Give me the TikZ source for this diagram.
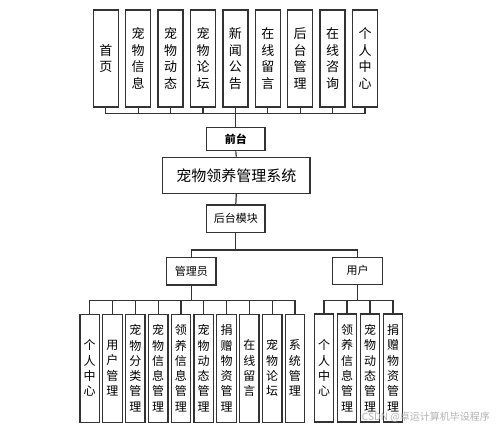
\documentclass[tikz,border=0pt]{standalone}
\usepackage{fontspec}
\setmainfont{Noto Sans CJK SC}
\begin{document}
\begin{tikzpicture}[x=1pt,y=-1pt,
    box/.style={draw=black!80,line width=1.3pt,inner sep=0pt,align=center},
    topbox/.style={box,minimum width=25pt,minimum height=97pt,font=\fontsize{13}{16.7}\selectfont},
    lowbox/.style={box,minimum width=19.5pt,minimum height=108pt,font=\fontsize{12}{15.3}\selectfont},
    midbox/.style={box,font=\fontsize{11}{13}\selectfont},
    link/.style={draw=black!80,line width=1.2pt}]
        \useasboundingbox (0,0) rectangle (499,428);
        % front end
        \foreach \lbl [count=\i] in {首\\页,宠\\物\\信\\息,宠\\物\\动\\态,宠\\物\\论\\坛,新\\闻\\公\\告,在\\线\\留\\言,后\\台\\管\\理,在\\线\\咨\\询,个\\人\\中\\心}
            \node[topbox] (t\i) at ({105.8+32.4*(\i-1)},58.5) {\lbl};
        \node[midbox,minimum width=58.3pt,minimum height=23pt,font=\fontsize{11}{13}\selectfont\bfseries] (qt) at (235.8,139.2) {前台};
        \node[box,minimum width=147.3pt,minimum height=36pt,font=\fontsize{15}{18}\selectfont] (sys) at (236.3,175.3) {宠物领养管理系统};
        \node[midbox,minimum width=58.3pt,minimum height=27.7pt] (ht) at (235.8,218.8) {后台模块};
        \node[midbox,minimum width=49.3pt,minimum height=27.3pt] (admin) at (191.3,271.3) {管理员};
        \node[midbox,minimum width=49.6pt,minimum height=27pt] (user) at (357.5,270.8) {用户};
        % back end
        \foreach \lbl [count=\i] in {个\\人\\中\\心,用\\户\\管\\理,宠\\物\\分\\类\\管\\理,宠\\物\\信\\息\\管\\理,领\\养\\信\\息\\管\\理,宠\\物\\动\\态\\管\\理,捐\\赠\\物\\资\\管\\理,在\\线\\留\\言,宠\\物\\论\\坛,系\\统\\管\\理}
            \node[lowbox] (a\i) at ({89.7+22.8*(\i-1)},368.2) {\lbl};
        \foreach \lbl [count=\i] in {个\\人\\中\\心,领\\养\\信\\息\\管\\理,宠\\物\\动\\态\\管\\理,捐\\赠\\物\\资\\管\\理}
            \node[lowbox] (u\i) at ({324+23*(\i-1)},368) {\lbl};
        % connectors
        \coordinate (tbus) at (235.8,113.3);
        \coordinate (hbus) at (235.8,250);
        \coordinate (abus) at (191.3,300.7);
        \coordinate (ubus) at (357.5,300.7);
        \foreach \i in {1,...,9}
            \draw[link] (t\i.south) |- (tbus);
        \draw[link] (tbus) -- (qt.north);
        \draw[link] (qt.south) -- (sys.north);
        \draw[link] (sys.south) -- (ht.north);
        \draw[link] (ht.south) -- (hbus);
        \draw[link] (hbus) -| (admin.north);
        \draw[link] (hbus) -| (user.north);
        \draw[link] (admin.south) -- (abus);
        \draw[link] (user.south) -- (ubus);
        \foreach \i in {1,...,10}
            \draw[link] (a\i.north) |- (abus);
        \foreach \i in {1,...,4}
            \draw[link] (u\i.north) |- (ubus);
        \node[text=black!30,font=\fontsize{10}{12}\selectfont,anchor=east,inner sep=0pt] (mark) at (490,416.7) {CSDN @卓运计算机毕设程序};
    \end{tikzpicture}
\end{document}
